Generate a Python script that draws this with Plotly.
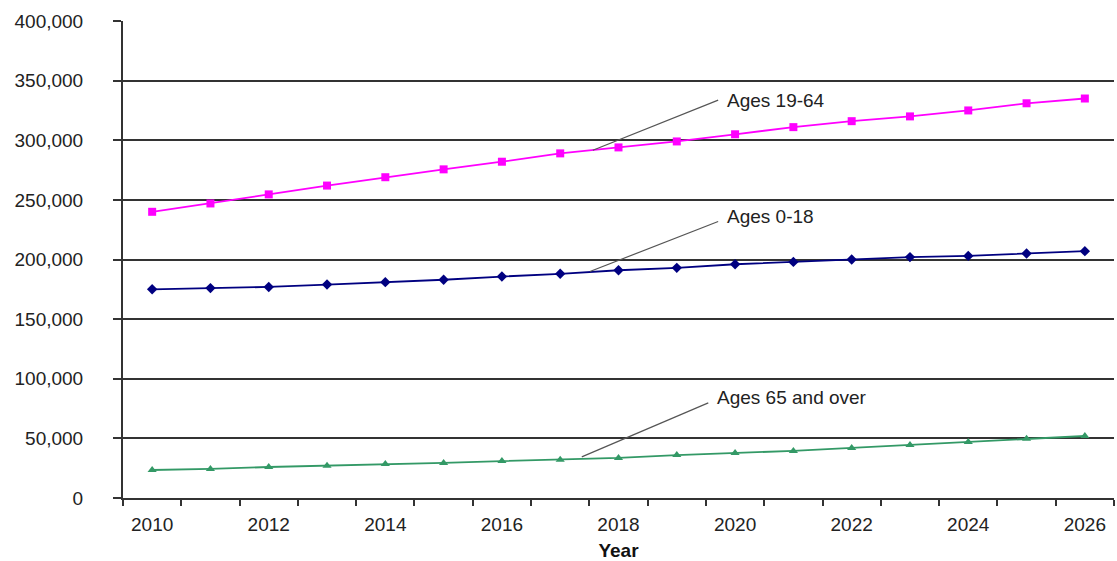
import plotly.graph_objects as go

years = list(range(2010, 2027))
ages_19_64 = [240000, 247000, 254600, 262000, 269000, 275600, 282000, 289000, 294000,
              299000, 305000, 311000, 316000, 320000, 325000, 331000, 335000]
ages_0_18 = [175000, 176000, 177000, 179000, 181000, 183000, 185700, 188000, 191000,
             193000, 196000, 198000, 200000, 202000, 203000, 205000, 207000]
ages_65_over = [23500, 24400, 26000, 27000, 28600, 29400, 31000, 32000, 33600,
                36000, 37800, 39500, 42000, 44500, 47000, 49600, 52000]
tick_years = list(range(2010, 2027, 2))
y_ticks = list(range(0, 400001, 50000))

FONT = "Liberation Sans, Arial, sans-serif"

fig = go.Figure()
fig.add_trace(go.Scatter(x=years, y=ages_19_64, mode="lines+markers", name="Ages 19-64",
                         line=dict(color="#ff00ff", width=1.8),
                         marker=dict(symbol="square", size=8, color="#ff00ff")))
fig.add_trace(go.Scatter(x=years, y=ages_0_18, mode="lines+markers", name="Ages 0-18",
                         line=dict(color="#000080", width=1.8),
                         marker=dict(symbol="diamond", size=8, color="#000080")))
fig.add_trace(go.Scatter(x=years, y=ages_65_over, mode="lines+markers", name="Ages 65 and over",
                         line=dict(color="#339966", width=1.8),
                         marker=dict(symbol="triangle-up", size=8, color="#339966")))

# Callout labels with leader lines: (line start, line end, text position, text)
callouts = [
    ((2017.56, 291600), (2019.71, 333600), (2019.83, 333600), "Ages 19-64"),
    ((2017.51, 189900), (2019.71, 231900), (2019.83, 236000), "Ages 0-18"),
    ((2017.37, 34500), (2019.54, 79800), (2019.66, 84000), "Ages 65 and over"),
]
for (x0, y0), (x1, y1), (tx, ty), text in callouts:
    fig.add_shape(type="line", xref="x", yref="y", x0=x0, y0=y0, x1=x1, y1=y1,
                  line=dict(color="#555555", width=1.2))
    fig.add_annotation(x=tx, y=ty, xref="x", yref="y", text=text, showarrow=False,
                       xanchor="left", yanchor="middle",
                       font=dict(family=FONT, size=19, color="#222222"))

fig.update_layout(
    width=1117, height=561,
    margin=dict(l=123, r=3, t=21, b=63),
    paper_bgcolor="white", plot_bgcolor="white",
    showlegend=False,
    font=dict(family=FONT, size=19, color="#222222"),
)
fig.update_xaxes(
    range=[2009.5, 2026.5], automargin=False,
    tickmode="array", tickvals=tick_years, ticktext=[str(y) for y in tick_years],
    ticks="outside", ticklen=0, ticklabelstandoff=8,
    minor=dict(tick0=2009.5, dtick=1, ticks="outside", ticklen=6, tickcolor="#333333",
               tickwidth=1.5, showgrid=False),
    showgrid=False, zeroline=False,
    showline=True, linecolor="#333333", linewidth=2,
    tickfont=dict(family=FONT, size=19, color="#222222"),
    title=dict(text="<b>Year</b>", font=dict(family=FONT, size=19, color="#111111"), standoff=12),
)
fig.update_yaxes(
    range=[0, 400000], automargin=False,
    tickmode="array", tickvals=y_ticks, ticktext=[f"{v:,}" for v in y_ticks],
    ticks="outside", ticklen=8, tickcolor="#333333", tickwidth=1.5,
    ticklabelstandoff=26,
    showgrid=True, gridcolor="#333333", gridwidth=1.5,
    zeroline=False,
    showline=True, linecolor="#333333", linewidth=2,
    tickfont=dict(family=FONT, size=19, color="#222222"),
)

fig.write_html("out.html")
